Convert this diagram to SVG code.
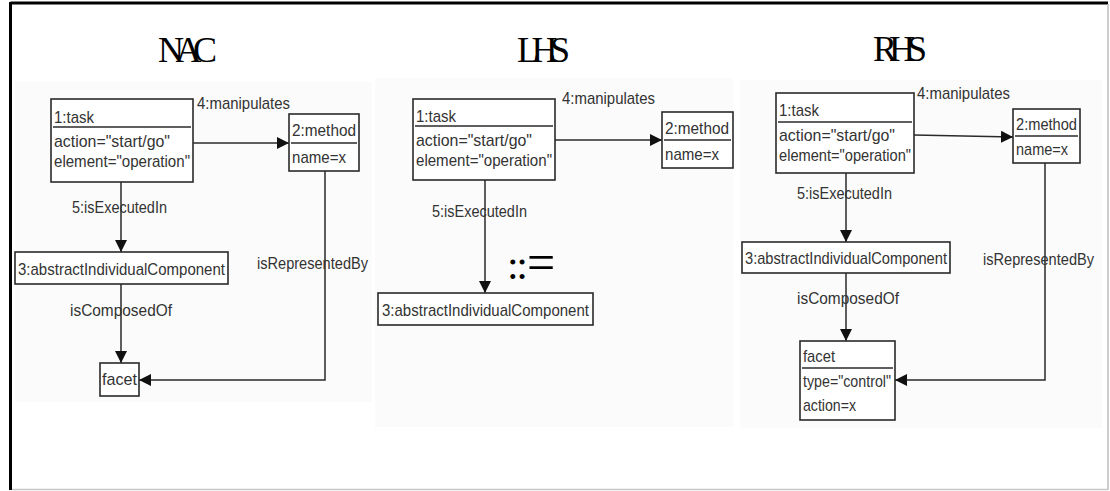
<svg xmlns="http://www.w3.org/2000/svg" width="1110" height="491" viewBox="0 0 1110 491">
<style>
  .t{font-family:"Liberation Sans",Arial,sans-serif;font-size:17px;fill:#333}
  .title{font-family:"Liberation Serif","Times New Roman",serif;font-size:36px;fill:#000}
  .box{fill:#fff;stroke:#2a2a2a;stroke-width:1.6}
  .sep{stroke:#2a2a2a;stroke-width:1.4}
  .edge{fill:none;stroke:#2a2a2a;stroke-width:1.5}
  .panel{fill:#fbfbfb}
</style>
<defs>
  <marker id="arr" markerUnits="userSpaceOnUse" markerWidth="13" markerHeight="12" refX="12" refY="6" orient="auto">
    <path d="M0,0 L12,6 L0,12 z" fill="#111"/>
  </marker>
</defs>
<rect x="0" y="0" width="1110" height="491" fill="#fff"/>
<!-- frame -->
<line x1="10.5" y1="3" x2="1108" y2="3" stroke="#000" stroke-width="3"/>
<line x1="10.5" y1="2" x2="10.5" y2="490" stroke="#000" stroke-width="3"/>
<line x1="1108" y1="4" x2="1108" y2="490" stroke="#bdbdbd" stroke-width="1.5"/>
<line x1="12" y1="489.5" x2="1108" y2="489.5" stroke="#c8c8c8" stroke-width="1.5"/>
<!-- faint panels -->
<rect class="panel" x="15" y="82" width="357" height="320"/>
<rect class="panel" x="375" y="78" width="358" height="349"/>
<rect class="panel" x="740" y="80" width="362" height="348"/>
<!-- titles -->
<text class="title" x="158" y="62" textLength="59" lengthAdjust="spacing">NAC</text>
<text class="title" x="517" y="62" textLength="53" lengthAdjust="spacing">LHS</text>
<text class="title" x="873" y="61" textLength="54" lengthAdjust="spacing">RHS</text>

<g id="connectors">
  <!-- NAC -->
  <line class="edge" x1="193" y1="143" x2="289" y2="143" marker-end="url(#arr)"/>
  <line class="edge" x1="121" y1="182" x2="121" y2="252" marker-end="url(#arr)"/>
  <line class="edge" x1="121" y1="284" x2="121" y2="363" marker-end="url(#arr)"/>
  <polyline class="edge" points="325,171 325,380 139,380" marker-end="url(#arr)"/>
  <text class="t" x="197" y="109" textLength="93" lengthAdjust="spacingAndGlyphs">4:manipulates</text>
  <text class="t" x="72" y="213" textLength="95" lengthAdjust="spacingAndGlyphs">5:isExecutedIn</text>
  <text class="t" x="70" y="316" textLength="102" lengthAdjust="spacingAndGlyphs">isComposedOf</text>
  <text class="t" x="257" y="269" textLength="111" lengthAdjust="spacingAndGlyphs">isRepresentedBy</text>
  <!-- LHS -->
  <line class="edge" x1="555" y1="140" x2="662" y2="140" marker-end="url(#arr)"/>
  <line class="edge" x1="485" y1="180" x2="485" y2="293" marker-end="url(#arr)"/>
  <text class="t" x="562" y="104" textLength="93" lengthAdjust="spacingAndGlyphs">4:manipulates</text>
  <text class="t" x="432" y="217" textLength="95" lengthAdjust="spacingAndGlyphs">5:isExecutedIn</text>
  <!-- RHS -->
  <line class="edge" x1="914" y1="135" x2="1013" y2="137" marker-end="url(#arr)"/>
  <line class="edge" x1="846" y1="173" x2="846" y2="242" marker-end="url(#arr)"/>
  <line class="edge" x1="846" y1="273" x2="846" y2="341" marker-end="url(#arr)"/>
  <polyline class="edge" points="1045,163 1045,380 895,380" marker-end="url(#arr)"/>
  <text class="t" x="917" y="99" textLength="93" lengthAdjust="spacingAndGlyphs">4:manipulates</text>
  <text class="t" x="797" y="199" textLength="95" lengthAdjust="spacingAndGlyphs">5:isExecutedIn</text>
  <text class="t" x="797" y="304" textLength="102" lengthAdjust="spacingAndGlyphs">isComposedOf</text>
  <text class="t" x="983" y="265" textLength="111" lengthAdjust="spacingAndGlyphs">isRepresentedBy</text>
</g>

<!-- NAC nodes -->
<g id="nac-task">
  <rect class="box" x="51" y="99" width="142" height="83"/>
  <text class="t" x="54" y="123" textLength="40" lengthAdjust="spacingAndGlyphs">1:task</text>
  <line class="sep" x1="53" y1="127" x2="191" y2="127"/>
  <text class="t" x="54" y="147" textLength="116" lengthAdjust="spacingAndGlyphs">action="start/go"</text>
  <text class="t" x="54" y="167" textLength="136" lengthAdjust="spacingAndGlyphs">element="operation"</text>
</g>
<g id="nac-method">
  <rect class="box" x="289" y="114" width="70" height="57"/>
  <text class="t" x="292" y="136" textLength="64" lengthAdjust="spacingAndGlyphs">2:method</text>
  <line class="sep" x1="291" y1="143" x2="357" y2="143"/>
  <text class="t" x="292" y="163" textLength="54" lengthAdjust="spacingAndGlyphs">name=x</text>
</g>
<g id="nac-component">
  <rect class="box" x="15" y="252" width="213" height="32"/>
  <text class="t" x="18" y="275" textLength="207" lengthAdjust="spacingAndGlyphs">3:abstractIndividualComponent</text>
</g>
<g id="nac-facet">
  <rect class="box" x="100" y="363" width="39" height="33"/>
  <text class="t" x="102" y="385" textLength="35" lengthAdjust="spacingAndGlyphs">facet</text>
</g>

<!-- LHS nodes -->
<g id="lhs-task">
  <rect class="box" x="413" y="99" width="142" height="81"/>
  <text class="t" x="416" y="122" textLength="40" lengthAdjust="spacingAndGlyphs">1:task</text>
  <line class="sep" x1="415" y1="126" x2="553" y2="126"/>
  <text class="t" x="416" y="146" textLength="116" lengthAdjust="spacingAndGlyphs">action="start/go"</text>
  <text class="t" x="416" y="166" textLength="136" lengthAdjust="spacingAndGlyphs">element="operation"</text>
</g>
<g id="lhs-method">
  <rect class="box" x="662" y="112" width="71" height="56"/>
  <text class="t" x="665" y="134" textLength="64" lengthAdjust="spacingAndGlyphs">2:method</text>
  <line class="sep" x1="664" y1="140" x2="731" y2="140"/>
  <text class="t" x="665" y="160" textLength="54" lengthAdjust="spacingAndGlyphs">name=x</text>
</g>
<g id="lhs-component">
  <rect class="box" x="378" y="293" width="215" height="32"/>
  <text class="t" x="382" y="316" textLength="207" lengthAdjust="spacingAndGlyphs">3:abstractIndividualComponent</text>
</g>
<g id="rewrite-symbol">
  <text x="507" y="279" font-family="Liberation Serif,serif" font-size="42" letter-spacing="-2.5" fill="#000">::</text>
  <text x="0" y="0" font-family="Liberation Serif,serif" font-size="40" fill="#000" transform="translate(527,280) scale(1.25,1.34)">=</text>
</g>

<!-- RHS nodes -->
<g id="rhs-task">
  <rect class="box" x="776" y="93" width="138" height="80"/>
  <text class="t" x="779" y="116" textLength="40" lengthAdjust="spacingAndGlyphs">1:task</text>
  <line class="sep" x1="778" y1="122" x2="912" y2="122"/>
  <text class="t" x="779" y="141" textLength="116" lengthAdjust="spacingAndGlyphs">action="start/go"</text>
  <text class="t" x="779" y="161" textLength="132" lengthAdjust="spacingAndGlyphs">element="operation"</text>
</g>
<g id="rhs-method">
  <rect class="box" x="1013" y="109" width="67" height="54"/>
  <text class="t" x="1016" y="130" textLength="61" lengthAdjust="spacingAndGlyphs">2:method</text>
  <line class="sep" x1="1015" y1="136" x2="1078" y2="136"/>
  <text class="t" x="1016" y="155" textLength="52" lengthAdjust="spacingAndGlyphs">name=x</text>
</g>
<g id="rhs-component">
  <rect class="box" x="742" y="242" width="208" height="31"/>
  <text class="t" x="745" y="264" textLength="202" lengthAdjust="spacingAndGlyphs">3:abstractIndividualComponent</text>
</g>
<g id="rhs-facet">
  <rect class="box" x="800" y="341" width="95" height="79"/>
  <text class="t" x="803" y="362" textLength="32" lengthAdjust="spacingAndGlyphs">facet</text>
  <line class="sep" x1="802" y1="368" x2="893" y2="368"/>
  <text class="t" x="803" y="387" textLength="88" lengthAdjust="spacingAndGlyphs">type="control"</text>
  <text class="t" x="803" y="411" textLength="53" lengthAdjust="spacingAndGlyphs">action=x</text>
</g>
</svg>
